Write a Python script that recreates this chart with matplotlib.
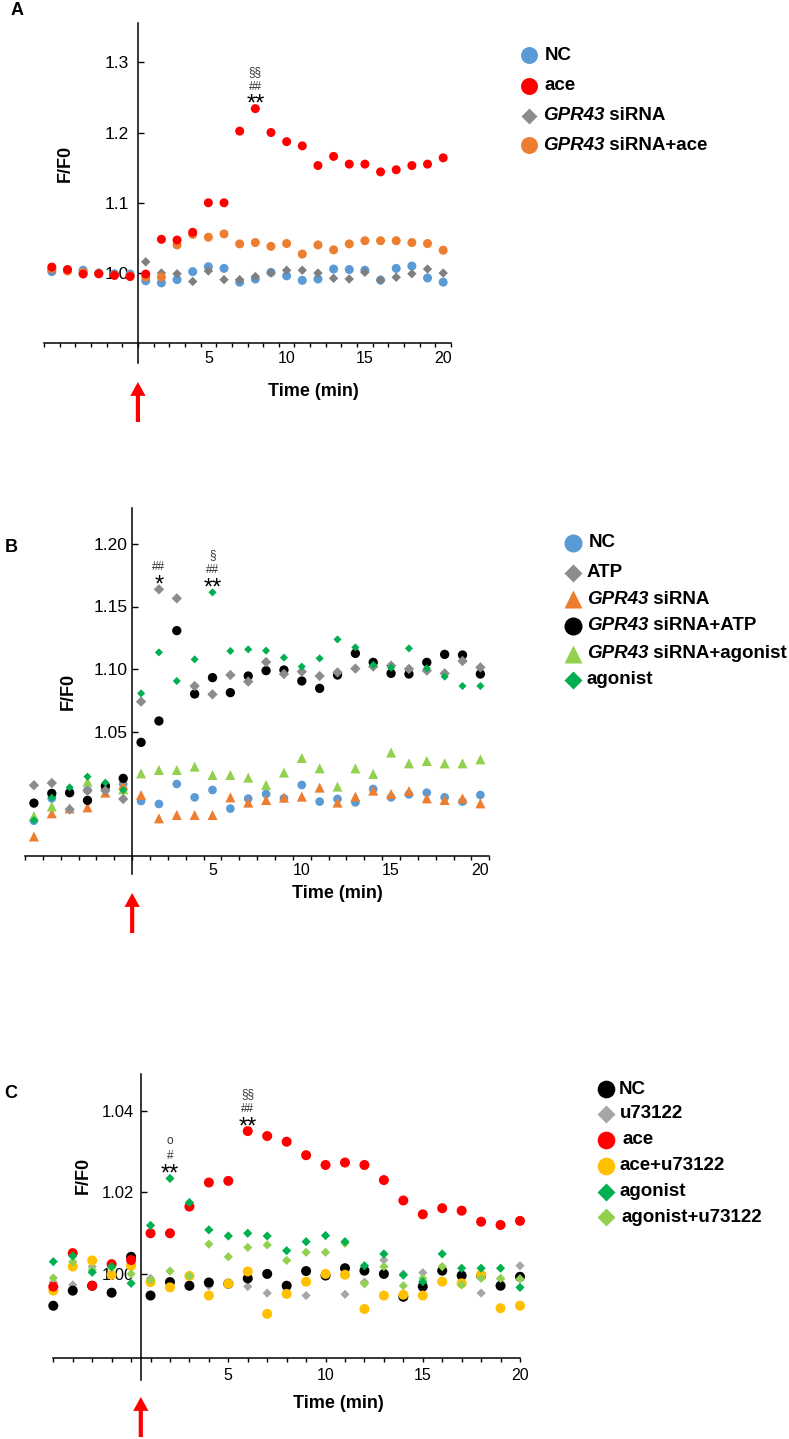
import matplotlib.pyplot as plt
from matplotlib.patches import FancyArrowPatch
from matplotlib import transforms

plt.rcParams['font.family'] = ['Liberation Sans', 'DejaVu Sans']

# ---- data (F/F0 per minute) ----
time_a = [-5, -4, -3, -2, -1, 0, 1, 2, 3, 4, 5, 6, 7, 8, 9, 10,
          11, 12, 13, 14, 15, 16, 17, 18, 19, 20]
a_nc = [1.002, 1.004, 1.004, 1.000, 0.999, 0.9986, 0.989, 0.986, 0.9906, 1.002,
        1.009, 1.0066, 0.987, 0.9915, 1.001, 0.996, 0.9896, 0.9915, 1.0057, 1.005,
        1.004, 0.990, 1.0066, 1.010, 0.993, 0.987]
a_ace = [1.0085, 1.005, 0.9986, 0.999, 0.9967, 0.995, 0.9986, 1.048, 1.047, 1.058,
         1.100, 1.100, 1.202, 1.234, 1.200, 1.187, 1.181, 1.153, 1.166, 1.155,
         1.155, 1.144, 1.147, 1.153, 1.155, 1.164]
a_si = [1.004, 1.003, 1.000, 1.000, 0.998, 0.997, 1.016, 1.000, 0.999, 0.988,
        1.003, 0.9906, 0.9906, 0.995, 1.000, 1.004, 1.004, 1.000, 0.9925, 0.9915,
        1.001, 0.990, 0.994, 0.999, 1.0057, 1.000]
a_si_ace = [1.006, 1.003, 1.001, 0.999, 0.997, 0.996, 0.9943, 0.9943, 1.040, 1.055,
            1.051, 1.0557, 1.0415, 1.0434, 1.038, 1.042, 1.027, 1.040, 1.033, 1.0415,
            1.046, 1.046, 1.046, 1.0434, 1.042, 1.0325]

time_b = time_a
b_nc = [0.9786, 0.9965, 1.0011, 1.003, 1.004, 1.008, 0.9944, 0.992, 1.008, 0.9973,
        1.0032, 0.9883, 0.9963, 1.000, 0.9965, 1.0072, 0.9939, 0.996, 0.9933, 1.004,
        0.9973, 0.9997, 1.0011, 0.9973, 0.9939, 0.9992]
b_atp = [1.007, 1.0088, 0.9877, 1.0027, 1.0027, 0.996, 1.0739, 1.1637, 1.1565, 1.0864,
         1.0797, 1.0952, 1.0899, 1.1056, 1.096, 1.0979, 1.0944, 1.0973, 1.1003, 1.1019,
         1.1027, 1.100, 1.0987, 1.0965, 1.1064, 1.1013]
b_si = [0.966, 0.9845, 0.9885, 0.9893, 1.0011, 1.0072, 0.9992, 0.9805, 0.9832, 0.9832,
        0.9832, 0.9973, 0.9931, 0.9952, 0.9971, 0.9979, 1.0051, 0.9931, 0.9979, 1.0027,
        1.000, 1.0024, 0.9965, 0.9952, 0.9965, 0.9925]
b_si_atp = [0.9927, 1.0005, 1.001, 0.9949, 1.0064, 1.0125, 1.0413, 1.0584, 1.1307, 1.080,
            1.0931, 1.0811, 1.0944, 1.0987, 1.0992, 1.0904, 1.0845, 1.0952, 1.1125, 1.1053,
            1.0965, 1.096, 1.1053, 1.1117, 1.1112, 1.096]
b_si_ago = [0.9824, 0.990, 1.0037, 1.0099, 1.008, 1.0037, 1.0165, 1.0192, 1.0192, 1.0219,
            1.0152, 1.0152, 1.0131, 1.0072, 1.0171, 1.0288, 1.0205, 1.0059, 1.0205, 1.016,
            1.0331, 1.0245, 1.0264, 1.0245, 1.0245, 1.0277]
b_ago = [0.979, 0.997, 1.0053, 1.0139, 1.0091, 1.0032, 1.0805, 1.1133, 1.0904, 1.1077,
         1.1613, 1.1144, 1.1157, 1.1147, 1.1091, 1.1019, 1.1085, 1.1237, 1.1173, 1.1032,
         1.101, 1.1165, 1.1005, 1.0939, 1.0864, 1.0864]

time_c = [-4, -3, -2, -1, 0, 1, 2, 3, 4, 5, 6, 7, 8, 9, 10,
          11, 12, 13, 14, 15, 16, 17, 18, 19, 20]
c_nc = [0.9922, 0.9959, 0.9971, 0.9954, 1.0042, 0.9947, 0.998, 0.9971, 0.9979, 0.9976,
        0.9989, 1.000, 0.9971, 1.0007, 0.9996, 1.0014, 1.0008, 1.000, 0.9944, 0.9969,
        1.0008, 0.9996, 0.9996, 0.9971, 0.9993]
c_u = [0.998, 0.9973, 1.0018, 0.9954, 1.0026, 0.9989, 0.998, 0.9975, 0.9971, 0.9975,
       0.9969, 0.9953, 0.9967, 0.9947, 0.9998, 0.995, 0.998, 1.0034, 1.000, 1.0003,
       1.0008, 1.000, 0.9953, 0.9988, 1.002]
c_ace = [0.9969, 1.0051, 0.9971, 1.0024, 1.0034, 1.00996, 1.00996, 1.0165, 1.0224, 1.0228,
         1.035, 1.0338, 1.0324, 1.0291, 1.0267, 1.0273, 1.0267, 1.023, 1.018, 1.0146,
         1.0161, 1.0155, 1.0128, 1.012, 1.013]
c_ace_u = [0.9959, 1.0018, 1.0033, 0.9998, 1.002, 0.998, 0.9967, 0.9995, 0.9947, 0.9976,
           1.0006, 0.9902, 0.9951, 0.9981, 1.000, 0.9998, 0.9914, 0.9947, 0.9949, 0.9947,
           0.9981, 0.9977, 0.9998, 0.9916, 0.9922]
c_ago = [1.003, 1.0044, 1.0004, 1.0018, 0.9977, 1.0119, 1.0234, 1.0175, 1.0108, 1.0093,
         1.00996, 1.0093, 1.0057, 1.0079, 1.0094, 1.0079, 1.002, 1.0049, 0.9997, 0.9981,
         1.0049, 1.0014, 1.0014, 1.0014, 0.9967]
c_ago_u = [0.999, 1.003, 1.001, 1.0015, 1.000, 0.9985, 1.0007, 0.9995, 1.0073, 1.0042,
           1.0065, 1.0071, 1.0033, 1.0053, 1.0053, 1.0075, 0.9976, 1.0018, 0.9971, 0.9989,
           1.0018, 0.9973, 0.9989, 0.9989, 0.9988]

BLUE, RED, ORANGE = '#5B9BD5', '#FF0000', '#ED7D31'
LGREEN, GREEN, GOLD = '#92D050', '#00B050', '#FFC000'

W, H = 789, 1439
fig = plt.figure(figsize=(W / 100, H / 100), dpi=100)

# overlay in pixel coordinates for labels, legends and arrows
ov = fig.add_axes([0, 0, 1, 1])
ov.set_xlim(0, W)
ov.set_ylim(H, 0)
ov.axis('off')


def px_rect(left, top, right, bottom):
    return [left / W, 1 - bottom / H, (right - left) / W, (bottom - top) / H]


def make_axes(rect, xlim, ylim, x_at, yticks, ylabels, ypad, minor_x, major_len, xpad, ysize):
    ax = fig.add_axes(px_rect(*rect))
    ax.patch.set_alpha(0)
    ax.set_xlim(xlim)
    ax.set_ylim(ylim)
    for s in ['top', 'right']:
        ax.spines[s].set_visible(False)
    ax.spines['left'].set_position(('data', 0.5))
    ax.spines['bottom'].set_position(('data', x_at))
    ax.spines['left'].set_linewidth(1.1)
    ax.spines['bottom'].set_linewidth(1.1)
    ax.set_xticks([5, 10, 15, 20])
    ax.set_xticklabels(['5', '10', '15', '20'])
    ax.set_xticks(minor_x, minor=True)
    ax.tick_params(axis='x', which='minor', direction='out', length=3, width=1)
    ax.tick_params(axis='x', which='major', direction='out', length=major_len,
                   width=1, pad=xpad, labelsize=11.5)
    ax.set_yticks(yticks)
    ax.set_yticklabels(ylabels)
    ax.tick_params(axis='y', direction='in', length=4, width=1, pad=ypad, labelsize=ysize)
    ax.set_axisbelow(True)
    return ax


def dots(ax, t, v, marker, color, s):
    ax.scatter(t, v, marker=marker, s=s, color=color, edgecolors='none', clip_on=False)


def stars(ax, x, y, marks):
    # marks: list of (text, offset in px, fontsize)
    for txt, dy, fs in marks:
        ax.annotate(txt, xy=(x, y), xytext=(0, dy * 0.72), textcoords='offset points',
                    ha='center', va='baseline', fontsize=fs,
                    color='black' if '*' in txt else '#333333', annotation_clip=False)


def legend_row(xm, xt, y, marker, color, ms, parts):
    ov.plot([xm], [y], marker=marker, color=color, ms=ms, ls='none', mec='none')
    txt, st = parts[0]
    t = ov.text(xt, y, txt, style=st, weight='bold', fontsize=13.5, ha='left', va='center')
    for txt, st in parts[1:]:
        t = ov.annotate(txt, xy=(1, 0), xycoords=t, style=st, weight='bold', fontsize=13.5,
                        ha='left', va='bottom')


def red_arrow(ax, tip, tail):
    tr = transforms.blended_transform_factory(ax.transData, ov.transData)
    arr = FancyArrowPatch((0.5, tail), (0.5, tip), transform=tr,
                          arrowstyle='simple,head_length=0.5,head_width=0.55,tail_width=0.15',
                          mutation_scale=20, color=RED, lw=0, shrinkA=0, shrinkB=0)
    fig.add_artist(arr)


def half_ticks(lo, hi):
    return [k + 0.5 for k in range(lo, hi)]


SIG = [('##', 19, 8.5), ('§§', 34, 8.5)]

# ---------------- panel A ----------------
axA = make_axes((44, 22.7, 451, 362.7), (-5.5, 20.5), (0.8724, 1.3563), 0.9,
                [1.0, 1.1, 1.2, 1.3], ['1.0', '1.1', '1.2', '1.3'], 6.5,
                half_ticks(-6, 21), 0, 5.5, 12.5)
dots(axA, time_a, a_nc, 'o', BLUE, 42)
dots(axA, time_a, a_si, 'D', '#7F7F7F', 23)
dots(axA, time_a, a_si_ace, 'o', ORANGE, 42)
dots(axA, time_a, a_ace, 'o', RED, 42)
i8 = time_a.index(8)
stars(axA, 8, a_ace[i8], [('**', -2, 17)] + SIG)
red_arrow(axA, 382, 422)

ov.text(17, 10.5, 'A', weight='bold', fontsize=13, ha='center', va='center')
ov.text(65, 163, 'F/F0', weight='bold', fontsize=13, rotation=90, ha='center', va='center')
ov.text(313, 392, 'Time (min)', weight='bold', fontsize=13, ha='center', va='center')

legend_row(529, 545, 55, 'o', BLUE, 12.2, [('NC', 'normal')])
legend_row(529, 545, 86, 'o', RED, 12.2, [('ace', 'normal')])
legend_row(529, 543, 116, 'D', '#8C8C8C', 8.6, [('GPR43', 'italic'), (' siRNA', 'normal')])
legend_row(529, 543, 145, 'o', ORANGE, 12.2, [('GPR43', 'italic'), (' siRNA+ace', 'normal')])

# ---------------- panel B ----------------
axB = make_axes((25, 508, 489.3, 874), (-5.5, 20.5), (0.936, 1.2288), 0.9504,
                [1.05, 1.10, 1.15, 1.20], ['1.05', '1.10', '1.15', '1.20'], 3.2,
                half_ticks(-6, 21), 0, 5, 12.5)
dots(axB, time_b, b_nc, 'o', BLUE, 39)
dots(axB, time_b, b_si, '^', ORANGE, 52)
dots(axB, time_b, b_si_ago, '^', LGREEN, 52)
dots(axB, time_b, b_si_atp, 'o', 'black', 45)
dots(axB, time_b, b_atp, 'D', '#8C8C8C', 28)
dots(axB, time_b, b_ago, 'D', GREEN, 17)
i2, i5 = time_b.index(2), time_b.index(5)
stars(axB, 2, b_atp[i2], [('*', -2, 17), ('##', 19, 8.5)])
stars(axB, 5, b_ago[i5], [('**', -2, 17), ('##', 19, 8.5), ('§', 34, 8.5)])
red_arrow(axB, 893, 933)

ov.text(11, 547, 'B', weight='bold', fontsize=13, ha='center', va='center')
ov.text(68, 691, 'F/F0', weight='bold', fontsize=13, rotation=90, ha='center', va='center')
ov.text(337, 893, 'Time (min)', weight='bold', fontsize=13, ha='center', va='center')

legend_row(573.5, 589, 542.7, 'o', BLUE, 13, [('NC', 'normal')])
legend_row(573.5, 587, 572.5, 'D', '#8C8C8C', 8.7, [('ATP', 'normal')])
legend_row(573.5, 587, 599, '^', ORANGE, 13.5, [('GPR43', 'italic'), (' siRNA', 'normal')])
legend_row(573.5, 587, 626, 'o', 'black', 13, [('GPR43', 'italic'), (' siRNA+ATP', 'normal')])
legend_row(573.5, 587, 654, '^', LGREEN, 13.5, [('GPR43', 'italic'), (' siRNA+agonist', 'normal')])
legend_row(573.5, 587, 680, 'D', GREEN, 8.7, [('agonist', 'normal')])

# ---------------- panel C ----------------
axC = make_axes((53.3, 1074, 520, 1380), (-4, 20), (0.974, 1.049), 0.9794,
                [1.00, 1.02, 1.04], ['1.00', '1.02', '1.04'], 4.8,
                list(range(-4, 21)), 3, 4.2, 12)
dots(axC, time_c, c_u, 'D', '#A6A6A6', 22)
dots(axC, time_c, c_nc, 'o', 'black', 52)
dots(axC, time_c, c_ace_u, 'o', GOLD, 52)
dots(axC, time_c, c_ace, 'o', RED, 52)
dots(axC, time_c, c_ago_u, 'D', LGREEN, 22)
dots(axC, time_c, c_ago, 'D', GREEN, 22)
j2, j6 = time_c.index(2), time_c.index(6)
stars(axC, 2, c_ago[j2], [('**', -2, 17), ('#', 19, 8.5), ('o', 34, 8.5)])
stars(axC, 6, c_ace[j6], [('**', -2, 17)] + SIG)
red_arrow(axC, 1397, 1437)

ov.text(11, 1094, 'C', weight='bold', fontsize=13, ha='center', va='center')
ov.text(83, 1175, 'F/F0', weight='bold', fontsize=13, rotation=90, ha='center', va='center')
ov.text(338, 1403, 'Time (min)', weight='bold', fontsize=13, ha='center', va='center')

legend_row(605.7, 619, 1089.3, 'o', 'black', 12.7, [('NC', 'normal')])
legend_row(605.7, 620, 1114, 'D', '#A6A6A6', 8.8, [('u73122', 'normal')])
legend_row(605.7, 622.5, 1140, 'o', RED, 12.7, [('ace', 'normal')])
legend_row(605.7, 620, 1166, 'o', GOLD, 12.7, [('ace+u73122', 'normal')])
legend_row(605.7, 620, 1192, 'D', GREEN, 8.8, [('agonist', 'normal')])
legend_row(605.7, 622, 1217, 'D', '#92D050', 8.8, [('agonist+u73122', 'normal')])

fig.savefig('out.png', dpi=100)
